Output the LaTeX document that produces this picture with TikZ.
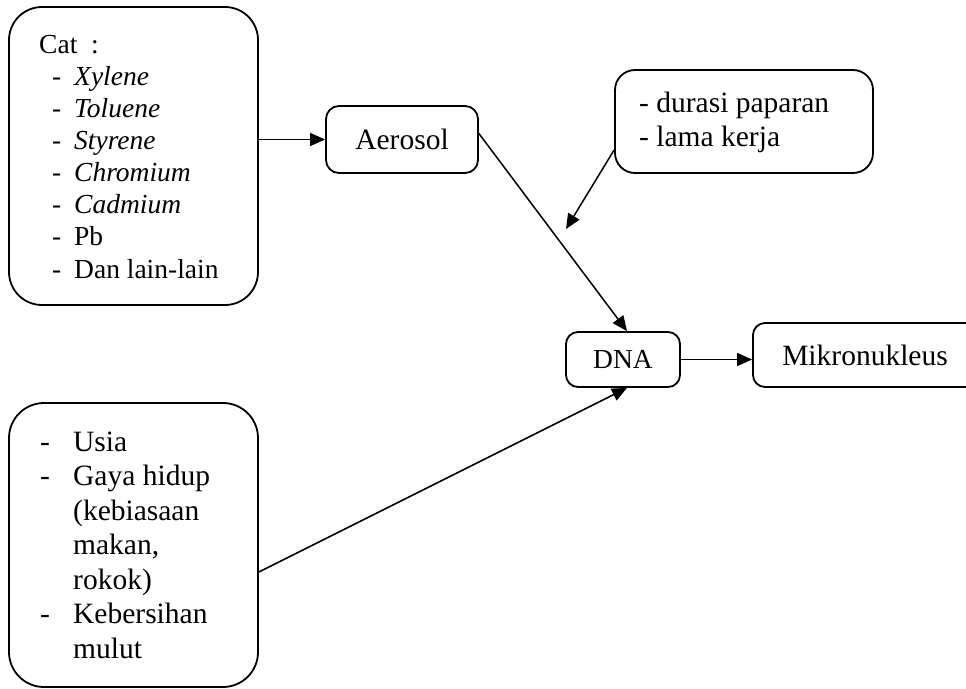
\documentclass[tikz,border=0pt]{standalone}
\usepackage{fontspec}
\setmainfont{Liberation Serif}
\usetikzlibrary{arrows.meta}
\tikzset{
  box/.style={draw, line width=1.8pt, inner sep=0pt},
  conn/.style={line width=1.5pt, -{Triangle[length=15pt,width=13pt]}},
  txt/.style={inner sep=0pt, anchor=base west},
  big/.style={font=\fontsize{29.5}{29}\selectfont},
  small/.style={font=\fontsize{27.5}{32}\selectfont},
}
\begin{document}
\begin{tikzpicture}[x=1pt,y=-1pt]
\useasboundingbox (0,0) rectangle (966,688);
% boxes
\node[box, rounded corners=33pt, minimum width=249pt, minimum height=298pt] (cat) at (133.5,156) {};
\node[box, rounded corners=13pt, minimum width=152pt, minimum height=67pt, big] (aer) at (402,139.5) {Aerosol};
\node[box, rounded corners=20pt, minimum width=258pt, minimum height=103pt] (dur) at (744,121.5) {};
\node[box, rounded corners=12pt, minimum width=114pt, minimum height=55pt, small] (dna) at (623,359.5) {DNA};
\node[box, rounded corners=12pt, minimum width=224pt, minimum height=64pt, big] (mik) at (865,355) {Mikronukleus};
\node[box, rounded corners=35pt, minimum width=249pt, minimum height=284pt] (bot) at (133.5,545) {};
% Cat text
\node[txt, small] (c0) at (39,53.3) {Cat\ \ :};
\foreach \w [count=\k] in {\textit{Xylene},\textit{Toluene},\textit{Styrene},\textit{Chromium},\textit{Cadmium},Pb,Dan lain-lain}{
  \node[txt, small] (cd\k) at (52,53.3+32.1*\k) {-};
  \node[txt, small] (cw\k) at (74,53.3+32.1*\k) {\w};
}
% durasi text
\node[txt, big] (d1) at (639,112.7) {- durasi paparan};
\node[txt, big] (d2) at (639,146.7) {- lama kerja};
% bottom text
\node[txt, big] (bd0) at (40,451) {-};
\node[txt, big] (bw0) at (73,451) {Usia};
\node[txt, big] (bd1) at (40,485.5) {-};
\node[txt, big] (bw1) at (73,485.5) {Gaya hidup};
\node[txt, big] (bw2) at (73,520) {(kebiasaan};
\node[txt, big] (bw3) at (73,554.5) {makan,};
\node[txt, big] (bw4) at (73,589) {rokok)};
\node[txt, big] (bd5) at (40,623.5) {-};
\node[txt, big] (bw5) at (73,623.5) {Kebersihan};
\node[txt, big] (bw6) at (73,658) {mulut};
% connectors
\coordinate (free) at (566,229);
\draw[conn] (cat.east |- aer.west) -- (aer.west);
\draw[conn] ([yshift=6pt]aer.east) -- ([xshift=4pt]dna.north);
\draw[conn] ([yshift=-28.5pt]dur.west) -- (free);
\draw[conn] ([yshift=-27pt]bot.east) -- ([xshift=4pt]dna.south);
\draw[conn] (dna.east) -- (dna.east -| mik.west);
\end{tikzpicture}
\end{document}
